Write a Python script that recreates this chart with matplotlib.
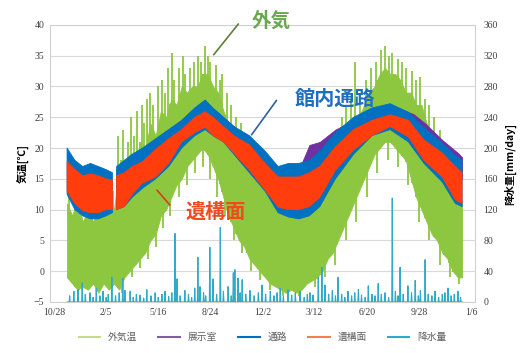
import numpy as np
import matplotlib
matplotlib.use('Agg')
import matplotlib.pyplot as plt

plt.rcParams['font.family'] = ['Noto Sans CJK JP', 'DejaVu Sans']

# ============================== データ ==============================
# 日数は 10/28 を 0 とする
x_ticks = [0, 100, 200, 300, 400, 500, 600, 700, 800]
x_labels = ['10/28', '2/5', '5/16', '8/24', '12/2', '3/12', '6/20', '9/28', '1/6']

# 外気温 (下限 / 上限)
out_day = [25, 35, 45, 55, 65, 75, 85, 95, 105, 115, 125, 135, 145, 155, 165, 175,
           185, 195, 205, 215, 225, 235, 245, 255, 265, 275, 285, 295, 305, 315,
           325, 335, 345, 355, 365, 375, 385, 395, 405, 415, 425, 435, 445, 455,
           465, 475, 485, 495, 505, 515, 525, 535, 545, 555, 565, 575, 585, 595,
           605, 615, 625, 635, 645, 655, 665, 675, 685, 695, 705, 715, 725, 735,
           745, 755, 765, 775, 783]
out_lo = [-1, -2, -3, -2.5, -3, -2, -3.5, -2, -3, -2, -3, -1, 0, 1, 2, 3,
          5, 6, 9, 10, 12, 14, 15, 17, 18, 19, 20, 19, 17, 15,
          12, 9, 7, 5, 4, 2, 1, 0, -1, -2, -2.5, -3, -3.5, -3,
          -3.5, -3, -2, -1.5, -1, 0, 2, 3, 5, 7, 9, 11, 13, 15,
          17, 19, 20, 21, 21, 20, 19, 18, 15, 12, 10, 8, 6, 5,
          3, 2, 0, -1, -1]
out_hi = [11, 9, 12, 8, 10, 8, 11, 9, 12, 10, 17, 15, 19, 17, 21, 20,
          24, 22, 26, 25, 28, 27, 30, 29, 30, 30, 32, 32, 30, 29,
          26, 24, 22, 20, 18, 17, 16, 16, 14, 14, 12, 12, 11, 12,
          10, 12, 11, 13, 13, 15, 16, 19, 19, 22, 23, 25, 25, 27,
          29, 30, 32, 33, 32, 32, 31, 29, 29, 27, 27, 24, 22, 20,
          18, 17, 15, 13, 11]
# 外気温のスパイク (上向き)
up_day = [28, 41, 50, 62, 72, 83, 90, 99, 108, 113,
          122, 128, 133, 141, 148, 153, 160, 168, 172, 178, 184, 190, 200, 207, 212,
          219, 226, 231, 240, 248, 252, 261, 268, 276, 282, 290, 296, 300, 310, 318, 322,
          332, 340, 350, 358, 370, 380, 392, 400, 410, 420, 432, 440, 452, 460, 470, 478,
          490, 500, 510, 520, 532, 542, 552, 560, 570, 578, 588, 598, 608, 618, 628, 635,
          642, 649, 660, 668, 676, 687, 695, 703, 712, 720, 730, 740, 748, 758, 766, 775, 781]
up_top = [13, 14, 11, 12.5, 13, 10.5, 14, 12, 15, 13,
          22, 18, 23, 21, 25, 22, 26, 27, 24, 28, 29, 27, 30, 31, 29,
          33, 35.5, 31, 33, 35, 32, 33, 34, 35, 34, 36.5, 35, 34, 33.5, 31, 32,
          29, 27, 25, 24, 22, 20, 19.5, 19, 18, 16, 15.5, 14, 14, 15, 13, 15.5,
          14, 16, 18, 19, 22, 23, 25, 27, 28, 34, 29, 31, 33, 34, 36, 36.5,
          35, 35.5, 34.5, 34, 33, 32.5, 31, 31.5, 28, 27, 25, 23, 21, 20, 18, 16, 14]
# 外気温のスパイク (下向き)
dn_day = [130, 150, 165, 180, 195, 210, 222, 240, 255, 270, 285, 300, 312, 328, 345,
          360, 378, 395, 415, 440, 470, 500, 520, 540, 560, 580, 600, 620, 640, 660,
          680, 700, 720, 740, 760, 778]
dn_bot = [-3.5, -1, 0.5, 2, 4, 7, 9, 12, 14, 16, 17, 15, 12, 9, 5,
          3, 0, -1.5, -3, -4, -4, -2.5, -1, 1, 5, 8, 12, 16, 18, 17,
          14, 8, 5, 1, -1, -2]

# 通路
cor_day = [25, 40, 55, 70, 85, 100, 112, 116,
           120, 135, 150, 170, 195, 220, 245, 270, 290, 305, 325, 345, 375, 405,
           430, 450, 470, 490, 510, 540, 575, 610, 645, 680, 710, 745, 770, 783]
cor_lo = [12.5, 10, 9, 8.5, 8.5, 9, 9.5, np.nan,
          10, 10.5, 12, 13.5, 15, 17, 20, 22, 23, 22, 21, 19, 16, 13,
          9.5, 8.8, 8.5, 9, 10.5, 15, 19, 22, 23, 21, 17.5, 14.5, 11, 10.5]
cor_hi = [20, 18, 17, 17.5, 17, 16.5, 16, np.nan,
          17, 18, 19, 20, 21.5, 23, 24.5, 26.5, 27.8, 26.5, 25, 23.5, 22, 19.5,
          17, 17.5, 17.5, 18, 19.5, 22.5, 25, 26.5, 27.2, 25.8, 23.3, 20.8, 18.8, 18]

# 遺構面
rem_lo = [13, 11, 9.8, 9.5, 9.5, 10, 10, np.nan,
          10, 10.5, 12.5, 14.3, 15.3, 17.5, 21, 22.5, 23.4, 22, 21, 19.2, 16.4, 13.2,
          10.4, 10, 10, 10.5, 12, 16.4, 19.7, 22, 23.5, 21.8, 18, 15.3, 11.6, 11]
rem_hi = [17.8, 16.5, 15.5, 15.8, 15.5, 15, 14.8, np.nan,
          15.5, 16, 17, 17.8, 19.8, 21.5, 23, 25, 25.9, 25, 23.5, 22, 20.5, 17.5,
          15.3, 15.3, 15.3, 16, 17, 20.2, 23, 24.5, 25.4, 24.5, 21.3, 19.2, 17, 16]

# 展示室
exh_day = [120, 200, 290, 380, 440, 475, 490, 510, 540, 575, 645, 690, 712, 745, 775, 783]
exh_lo = [14, 19, 25, 19, 14, 15, 16, 17, 20, 23, 25, 23.5, 21.5, 19, 16, 15]
exh_hi = [16.5, 21, 27.5, 21, 16, 17.5, 20.5, 21, 23, 24.5, 27, 25.5, 24, 21.3, 19.2, 18.5]

# 降水量 [mm/day]
rain_day = [30, 38, 46, 54, 60, 69, 75, 81, 88, 94, 100, 104, 111, 118, 125, 132, 136,
            146, 152, 158, 165, 172, 178, 186, 194, 200, 207, 213, 220, 226, 232, 236,
            242, 251, 258, 264, 270, 276, 280, 287, 291, 299, 305, 312, 319, 325, 334,
            340, 344, 347, 353, 357, 361, 368, 376, 384, 392, 399, 406, 415, 422, 428,
            434, 440, 449, 456, 463, 472, 480, 486, 491, 497, 507, 514, 520, 527, 534,
            540, 545, 552, 558, 564, 571, 577, 584, 590, 597, 603, 610, 616, 622, 628,
            635, 642, 649, 655, 660, 664, 670, 679, 686, 693, 699, 703, 712, 718, 725,
            731, 738, 745, 750, 756, 762, 768, 775, 780]
rain_mm = [8, 14, 16, 25, 10, 12, 6, 18, 8, 14, 6, 10, 32, 8, 12, 31, 15,
           14, 6, 10, 9, 5, 16, 8, 12, 6, 10, 14, 7, 12, 89, 30,
           8, 15, 10, 6, 18, 58, 20, 12, 8, 71, 30, 10, 97, 14, 20,
           8, 38, 42, 31, 12, 29, 10, 15, 8, 12, 22, 10, 14, 8, 12,
           18, 7, 16, 9, 12, 14, 6, 10, 12, 9, 32, 45, 22, 10, 15,
           8, 32, 10, 6, 14, 8, 12, 16, 9, 6, 21, 10, 8, 24, 10,
           12, 6, 135, 14, 8, 45, 10, 21, 12, 28, 8, 15, 55, 10, 8,
           14, 6, 10, 12, 18, 8, 10, 14, 6]

# ============================== 描画 ==============================
c_out = '#8DC63F'
c_exh = '#7030A0'
c_cor = '#0070C0'
c_rem = '#FF3D0D'
c_rain = '#31A9C9'

fig = plt.figure(figsize=(5.25, 3.53), dpi=100)
ax = fig.add_axes([0.095, 0.1445, 0.81, 0.785])

ax.fill_between(out_day, out_lo, out_hi, color=c_out, lw=0.6, edgecolor=c_out, zorder=1)
ax.vlines(up_day, np.interp(up_day, out_day, out_lo), up_top, color=c_out, lw=1.3, zorder=1)
ax.vlines(dn_day, dn_bot, np.interp(dn_day, out_day, out_hi), color=c_out, lw=1.3, zorder=1)
ax.fill_between(exh_day, exh_lo, exh_hi, color=c_exh, lw=0.6, edgecolor=c_exh, zorder=2)
ax.fill_between(cor_day, cor_lo, cor_hi, color=c_cor, lw=0.6, edgecolor=c_cor, zorder=3)
ax.fill_between(cor_day, rem_lo, rem_hi, color=c_rem, lw=0.6, edgecolor=c_rem, zorder=4)

ax.set_xlim(-8, 808)
ax.set_ylim(-5, 40)
ax.set_yticks(range(-5, 41, 5))
ax.set_xticks(x_ticks)
ax.set_xticklabels(x_labels)
ax.grid(True, axis='y', color='#D9D9D9', lw=0.8)
ax.set_axisbelow(True)
ax.tick_params(length=0, labelsize=7, colors='#404040', pad=4)
for lbl in ax.get_xticklabels() + ax.get_yticklabels():
    lbl.set_family('Liberation Serif')
for s in ax.spines.values():
    s.set_color('#D0D0D0')
    s.set_linewidth(0.8)
ax.set_ylabel('気温[℃]', fontsize=7.5, fontweight='bold', labelpad=4)

# 降水量 (右軸)
ax2 = ax.twinx()
days = np.arange(25, 784)
rain = np.zeros(len(days))
rain[np.array(rain_day) - 25] = rain_mm
ax2.plot(days, rain, color=c_rain, lw=0.8)
ax2.set_ylim(0, 360)
ax2.set_yticks(range(0, 361, 40))
ax2.tick_params(length=0, labelsize=7, colors='#404040', pad=6)
for lbl in ax2.get_yticklabels():
    lbl.set_family('Liberation Serif')
for s in ax2.spines.values():
    s.set_visible(False)
ax2.set_ylabel('降水量[mm/day]', fontsize=7.5, fontweight='bold', labelpad=4)

# 注記
ax.annotate('', xy=(303, 34.8), xytext=(357, 40.5), annotation_clip=False,
            arrowprops=dict(arrowstyle='-', color='#5E7F3A', lw=1.2))
ax.text(416, 40.7, '外気', color='#6AA84F', fontsize=14, fontweight='bold',
        ha='center', va='center')
ax.annotate('', xy=(376, 21.8), xytext=(430, 28.1), zorder=6,
            arrowprops=dict(arrowstyle='-', color='#2E5FA0', lw=1.2))
ax.text(540, 28.1, '館内通路', color='#1F6FBF', fontsize=14.5, fontweight='bold',
        ha='center', va='center', zorder=6)
ax.annotate('', xy=(194, 13.5), xytext=(226, 10.4), zorder=6,
            arrowprops=dict(arrowstyle='-', color='#D04020', lw=1.2))
ax.text(309, 9.8, '遺構面', color='#F04A1E', fontsize=14.5, fontweight='bold',
        ha='center', va='center', zorder=6)

# 凡例
handles = [plt.Line2D([], [], color=c, lw=1.5) for c in
           ['#C5DC8A', '#7F5FA0', '#0070C0', '#F08050', c_rain]]
fig.legend(handles, ['外気温', '展示室', '通路', '遺構面', '降水量'],
           loc='center', bbox_to_anchor=(0.5, 0.045), ncol=5, frameon=False,
           fontsize=7, handlelength=2.2, columnspacing=2.2, labelcolor='#606060')

fig.savefig('out.png', dpi=100)
